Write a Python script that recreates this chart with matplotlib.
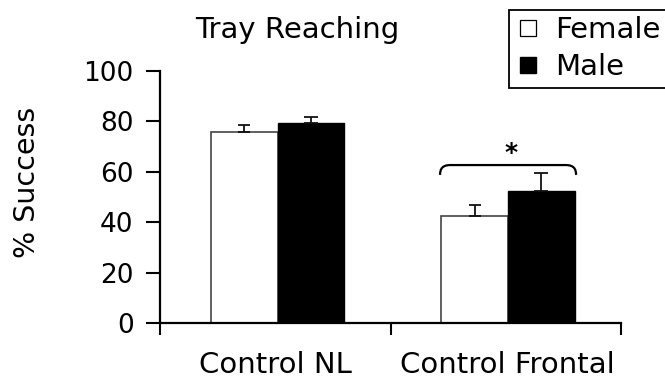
import matplotlib
matplotlib.use("Agg")
import matplotlib.pyplot as plt
from matplotlib.path import Path
from matplotlib.patches import PathPatch
from matplotlib.lines import Line2D
import numpy as np

plt.rcParams['font.family'] = ['DejaVu Sans']

categories = ["Control NL", "Control Frontal"]
female = [75.8, 42.5]
female_err = [2.7, 4.2]
male = [79.2, 52.4]
male_err = [2.3, 6.9]
y_ticks = [0, 20, 40, 60, 80, 100]

W, H = 665, 381
fig = plt.figure(figsize=(W / 100, H / 100), dpi=100)
ax = fig.add_axes([160 / W, 1 - 323 / H, 461 / W, 252.3 / H])

centers = np.array([0.5, 1.5])
w = 0.29
xf = centers - 0.135
xm = centers + 0.155
ax.bar(xf, female, width=w, color="white", edgecolor="#444444",
       linewidth=1.2, zorder=2)
ax.bar(xm, male, width=w, color="black", edgecolor="black",
       linewidth=1.0, zorder=2)

# upward-only error bars
ax.errorbar(xf, female, yerr=[[0, 0], female_err], fmt="none",
            ecolor="#111111", elinewidth=1.3, capsize=4.3, capthick=1.3, zorder=3)
ax.errorbar(xm, male, yerr=[[0, 0], male_err], fmt="none",
            ecolor="#111111", elinewidth=1.3, capsize=5.0, capthick=1.3, zorder=3)

# significance bracket over the frontal group
x0, x1 = 1.215, 1.805
yb, ye = 62.6, 58.7
dx = 0.045
verts = [(x0, ye), (x0, yb - 1.5), (x0 + 0.01, yb), (x0 + dx, yb),
         (x1 - dx, yb),
         (x1 - 0.01, yb), (x1, yb - 1.5), (x1, ye)]
codes = [Path.MOVETO, Path.CURVE4, Path.CURVE4, Path.CURVE4,
         Path.LINETO,
         Path.CURVE4, Path.CURVE4, Path.CURVE4]
ax.add_patch(PathPatch(Path(verts, codes), facecolor="none", edgecolor="black",
                       linewidth=1.6, zorder=3))
ax.text(1.525, 67.4, "*", ha="center", va="center", fontsize=18,
        fontweight="bold")

ax.set_xlim(0, 2)
ax.set_ylim(0, 100)
ax.set_yticks(y_ticks)
ax.set_yticklabels([str(t) for t in y_ticks], fontsize=19)
ax.set_xticks([0, 1, 2])
ax.set_xticklabels([])
ax.tick_params(axis="y", direction="out", length=10, width=1.5, pad=9)
ax.tick_params(axis="x", direction="out", length=8.6, width=1.5)

for s in ("top", "right"):
    ax.spines[s].set_visible(False)
ax.spines["left"].set_linewidth(1.6)
ax.spines["bottom"].set_linewidth(1.6)

# category names under the axis
for cx, lab in zip([275, 507], categories):
    fig.text(cx / W, 1 - 373 / H, lab, ha="center", va="baseline",
             fontsize=21)

fig.text(27 / W, 1 - 182 / H, "% Success", rotation=90, ha="center",
         va="center", fontsize=20.5)
fig.text(297 / W, 1 - 38 / H, "Tray Reaching", ha="center", va="baseline",
         fontsize=21)

handles = [
    Line2D([], [], marker="s", linestyle="none", markersize=11,
           markerfacecolor="white", markeredgecolor="black", markeredgewidth=0.9),
    Line2D([], [], marker="s", linestyle="none", markersize=11,
           markerfacecolor="black", markeredgecolor="black"),
]
leg = fig.legend(handles, ["Female", "Male"], loc="upper left",
                 bbox_to_anchor=(509 / W, 1 - 10 / H), fontsize=21,
                 frameon=True, fancybox=False, handlelength=0.85,
                 handletextpad=0.5, borderpad=0.22, labelspacing=0.3,
                 borderaxespad=0)
leg.get_frame().set_edgecolor("black")
leg.get_frame().set_linewidth(1.3)
leg.get_frame().set_alpha(1)

fig.savefig("out.png", dpi=100)
